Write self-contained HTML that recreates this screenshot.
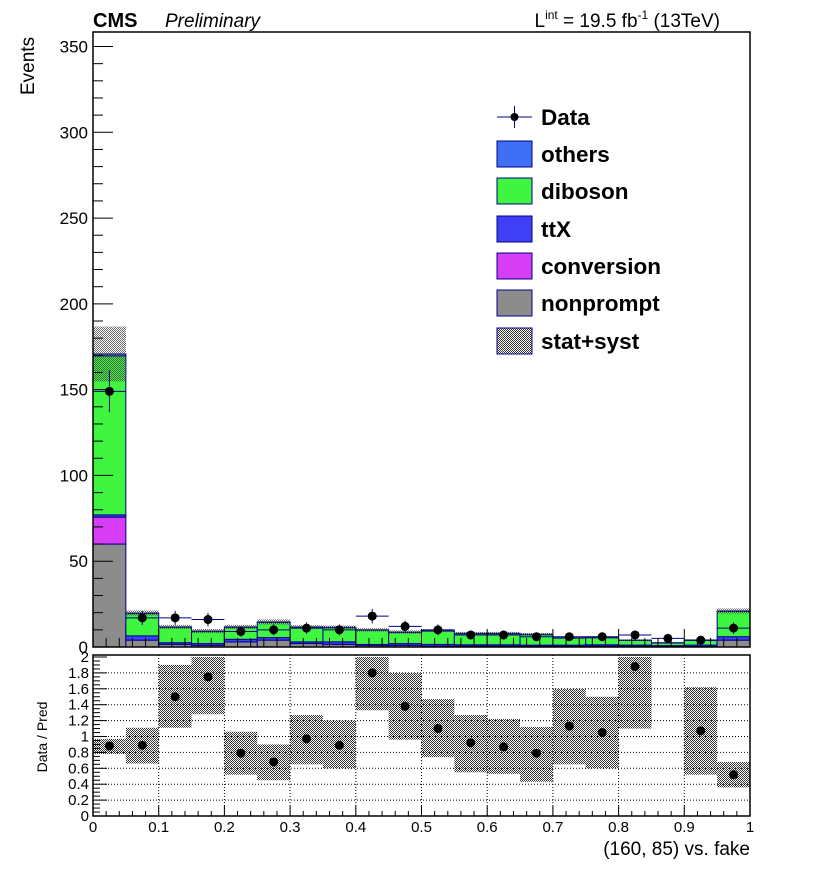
<!DOCTYPE html>
<html><head><meta charset="utf-8"><style>
html,body{margin:0;background:#fff;width:816px;height:872px;overflow:hidden;position:relative;}
svg{display:block;font-family:"Liberation Sans",sans-serif;}
</style></head><body>
<svg id="c" width="816" height="872" xmlns="http://www.w3.org/2000/svg">
<defs>
<pattern id="hatch" width="2" height="2" patternUnits="userSpaceOnUse">
<rect width="1" height="1" fill="#444"/><rect x="1" y="1" width="1" height="1" fill="#444"/>
</pattern>
<pattern id="hatch2" width="2" height="2" patternUnits="userSpaceOnUse">
<rect width="2" height="2" fill="#fff"/>
<rect width="1" height="1" fill="#333"/><rect x="1" y="1" width="1" height="1" fill="#333"/>
</pattern>
</defs>
<g id="main"></g>
<g id="ratio"></g>
</svg>
<script>
const binEdges = [0,0.05,0.1,0.15,0.2,0.25,0.3,0.35,0.4,0.45,0.5,0.55,0.6,0.65,0.7,0.75,0.8,0.85,0.9,0.95,1.0];
const nonprompt = [60,4,1.5,1,3,4,2,1.5,1,1,0.5,0.5,0.5,0.5,0.5,0.5,0.5,0.3,0.3,4];
const conversion = [15.7,0,0,0,0,0,0,0,0,0,0,0,0,0,0,0,0,0,0,0];
const ttX = [1.3,2.5,1,1,1.5,1.5,1,1.5,0.5,1,1,0.8,0.8,0.6,0.6,0.8,0.6,0.5,0.8,2];
const diboson = [92.6,13,9,7,7,8.8,8.5,8.3,8.3,6.5,7.8,6.5,6.5,6.1,4.1,4.1,2.7,1.5,2.7,14.7];
const others = [1.2,0.3,0.2,0.3,0.2,0.3,0.2,0.2,0.2,0.2,0.2,0.2,0.2,0.2,0.2,0.2,0.2,0.2,0.2,0.3];
const systUnc = [16,1.5,1.2,1.2,1.2,1.5,1,1,1,1,0.8,0.8,0.8,0.8,0.5,0.6,0.5,0.5,0.5,1.5];
const dataVals = [149,17,17,16,9,10,11,10,18,12,10,7,7,6,6,6,7,5,4,11];
const ratioVals = [0.88,0.89,1.5,1.75,0.79,0.68,0.97,0.89,1.8,1.38,1.1,0.92,0.87,0.79,1.13,1.05,1.88,null,1.07,0.52];
const ratioLo = [0.78,0.66,1.11,1.28,0.52,0.45,0.65,0.6,1.33,0.96,0.74,0.55,0.53,0.43,0.65,0.6,1.1,null,0.52,0.36];
const ratioHi = [0.97,1.11,1.9,2.0,1.06,0.9,1.27,1.2,2.0,1.8,1.47,1.27,1.22,1.12,1.6,1.5,2.0,null,1.62,0.68];
const yTicks = [0,50,100,150,200,250,300,350];
const rTicks = [0,0.2,0.4,0.6,0.8,1,1.2,1.4,1.6,1.8,2];
const xTicks = [0,0.1,0.2,0.3,0.4,0.5,0.6,0.7,0.8,0.9,1];

const NS="http://www.w3.org/2000/svg";
const L=93,R=750,T=32,B=647,RT=655,RB=816;
const X=v=>L+(R-L)*v;
const Y=v=>B-(B-46.5)*v/350;
const RY=v=>RB-(RB-657)*v/2;
function mk(tag,attrs,parent,text){const e=document.createElementNS(NS,tag);for(const k in attrs)e.setAttribute(k,attrs[k]);if(text!==undefined)e.textContent=text;parent.appendChild(e);return e;}
const main=document.getElementById('main'), ratio=document.getElementById('ratio');

const comps=[[nonprompt,'#8c8c8c','nonprompt'],[conversion,'#d63df5','conversion'],[ttX,'#3f3ff5','ttx'],[diboson,'#3ff53f','diboson'],[others,'#3f6ff5','others']];
for(let i=0;i<20;i++){
  let base=0;
  const x0=X(binEdges[i]),x1=X(binEdges[i+1]);
  for(const [arr,col,nm] of comps){
    const v=arr[i]; if(v<=0){continue;}
    const r=mk('rect',{x:x0,y:Y(base+v),width:x1-x0,height:Y(base)-Y(base+v),fill:col,stroke:'#00008b','stroke-width':1},main);
    
    
    base+=v;
  }
  const h=mk('rect',{x:x0,y:Y(base+systUnc[i]),width:x1-x0,height:Y(base-systUnc[i])-Y(base+systUnc[i]),fill:'url(#hatch)','fill-opacity':0.8},main);
  
  
}
for(let i=0;i<20;i++){
  const v=dataVals[i]; if(v==null)continue;
  const cx=X((binEdges[i]+binEdges[i+1])/2), e=Math.sqrt(v);
  const g=mk('g',{},main);
  
  
  mk('line',{x1:X(binEdges[i]),x2:X(binEdges[i+1]),y1:Y(v),y2:Y(v),stroke:'#00008b'},g);
  mk('line',{x1:cx,x2:cx,y1:Y(v+e),y2:Y(Math.max(0,v-e)),stroke:'#00008b'},g);
  mk('circle',{cx:cx,cy:Y(v),r:4.5,fill:'#000'},g);
}
const fr=mk('rect',{x:L,y:T,width:R-L,height:B-T,fill:'none',stroke:'#000','stroke-width':1.5},main);

for(let v=0;v<=350;v+=10){const big=v%50===0;mk('line',{x1:L,x2:L+(big?20:10),y1:Y(v),y2:Y(v),stroke:'#000'},main);}
for(const v of yTicks){const t=mk('text',{x:L-5,y:Y(v)+6,'text-anchor':'end','font-size':17},main,String(v));}
for(let k=0;k<=50;k++){const v=k/50;const big=k%5===0;mk('line',{x1:X(v),x2:X(v),y1:B,y2:B-(big?18:9),stroke:'#000'},main);}
for(let i=0;i<20;i++){
  if(ratioLo[i]==null)continue;
  const x0=X(binEdges[i]),x1=X(binEdges[i+1]);
  const r=mk('rect',{x:x0,y:RY(ratioHi[i]),width:x1-x0,height:RY(ratioLo[i])-RY(ratioHi[i]),fill:'url(#hatch2)'},ratio);
  
}
for(const v of rTicks){if(v>0&&v<2)mk('line',{x1:L,x2:R,y1:RY(v),y2:RY(v),stroke:'#000','stroke-dasharray':'1,2'},ratio);}
for(const v of xTicks){if(v>0&&v<1)mk('line',{x1:X(v),x2:X(v),y1:RT,y2:RB,stroke:'#000','stroke-dasharray':'1,2'},ratio);}
for(let i=0;i<20;i++){
  const v=ratioVals[i];if(v==null)continue;
  const c=mk('circle',{cx:X((binEdges[i]+binEdges[i+1])/2),cy:RY(v),r:4.5,fill:'#000'},ratio);
  
}
const rf=mk('rect',{x:L,y:RT,width:R-L,height:RB-RT,fill:'none',stroke:'#000','stroke-width':1.5},ratio);

for(let k=0;k<=40;k++){const v=k/20;const big=k%4===0;mk('line',{x1:L,x2:L+(big?14:7),y1:RY(v),y2:RY(v),stroke:'#000'},ratio);}
for(const v of rTicks){const t=mk('text',{x:L-4,y:RY(v)+5,'text-anchor':'end','font-size':15},ratio,String(v));}
for(let k=0;k<=50;k++){const v=k/50;const big=k%5===0;mk('line',{x1:X(v),x2:X(v),y1:RB,y2:RB-(big?10:5),stroke:'#000'},ratio);}
for(const v of xTicks){const t=mk('text',{x:X(v),y:832,'text-anchor':'middle','font-size':15},ratio,String(v));}
</script>
<svg style="position:absolute;left:0;top:0" width="816" height="872" xmlns="http://www.w3.org/2000/svg">
<text x="93" y="27" font-family="Liberation Sans,sans-serif" font-weight="bold" font-size="20">CMS</text>
<text x="165" y="27" font-family="Liberation Sans,sans-serif" font-style="italic" font-size="19">Preliminary</text>
<text x="720" y="27" text-anchor="end" font-family="Liberation Sans,sans-serif" font-size="19">L<tspan font-size="12" dy="-8">int</tspan><tspan dy="8"> = 19.5 fb</tspan><tspan font-size="12" dy="-8">-1</tspan><tspan dy="8"> (13TeV)</tspan></text>
<text transform="translate(34,95) rotate(-90)" font-family="Liberation Sans,sans-serif" font-size="19">Events</text>
<text transform="translate(47,737) rotate(-90)" text-anchor="middle" font-family="Liberation Sans,sans-serif" font-size="14">Data / Pred</text>
<text x="750" y="855" text-anchor="end" font-family="Liberation Sans,sans-serif" font-size="19">(160, 85) vs. fake</text>
<g font-family="Liberation Sans,sans-serif" font-weight="bold" font-size="22.5">
<g><line x1="497" x2="532" y1="117" y2="117" stroke="#00008b"/><line x1="514.5" x2="514.5" y1="106" y2="128" stroke="#00008b"/><circle cx="514.5" cy="117" r="4" fill="#000"/><text x="541" y="125">Data</text></g>
<g><rect x="497" y="141" width="35" height="26" fill="#3f6ff5" stroke="#00008b"/><text x="541" y="162">others</text></g>
<g><rect x="497" y="178" width="35" height="26" fill="#3ff53f" stroke="#00008b"/><text x="541" y="199">diboson</text></g>
<g><rect x="497" y="216" width="35" height="26" fill="#3f3ff5" stroke="#00008b"/><text x="541" y="237">ttX</text></g>
<g><rect x="497" y="253" width="35" height="26" fill="#d63df5" stroke="#00008b"/><text x="541" y="274">conversion</text></g>
<g><rect x="497" y="290" width="35" height="26" fill="#8c8c8c" stroke="#00008b"/><text x="541" y="311">nonprompt</text></g>
<g><rect x="497" y="328" width="35" height="26" fill="url(#hatch2)" stroke="#00008b"/><text x="541" y="349">stat+syst</text></g>
</g>
</svg>
</body></html>
